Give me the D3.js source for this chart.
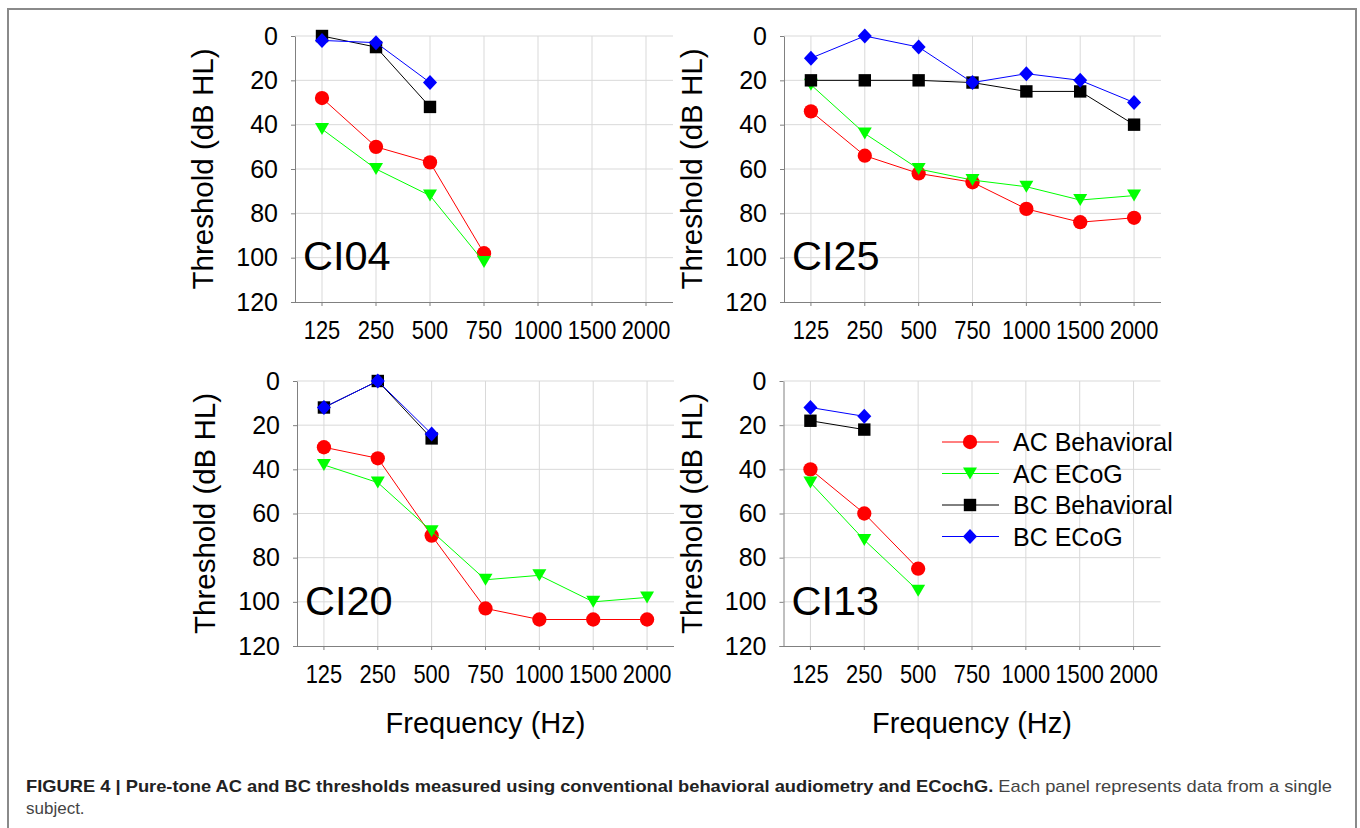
<!DOCTYPE html>
<html>
<head>
<meta charset="utf-8">
<script src="https://cdn.jsdelivr.net/npm/d3@7"></script>
<style>
  html, body { margin: 0; padding: 0; background: #fff; }
  svg { display: block; font-family: "Liberation Sans", Arial, sans-serif; }
</style>
</head>
<body>
<svg id="chart"></svg>
<script>
// categories and ticks
const freqLabels = ['125', '250', '500', '750', '1000', '1500', '2000'];
const yTicks = [0, 20, 40, 60, 80, 100, 120];
const seriesNames = ['AC Behavioral', 'AC ECoG', 'BC Behavioral', 'BC ECoG'];
const seriesColors = ['#ff0000', '#00ff00', '#000000', '#0000ff'];
const seriesShapes = ['circle', 'triangle', 'square', 'diamond'];
const panelNames = ['CI04', 'CI25', 'CI20', 'CI13'];

// thresholds (dB HL), one value per frequency, null = not measured
const ci04AcBeh = [28, 50, 57, 98, null, null, null];
const ci04AcEcog = [42, 60, 72, 102, null, null, null];
const ci04BcBeh = [0, 5, 32, null, null, null, null];
const ci04BcEcog = [2, 3, 21, null, null, null, null];

const ci25AcBeh = [34, 54, 62, 66, 78, 84, 82];
const ci25AcEcog = [22, 44, 60, 65, 68, 74, 72];
const ci25BcBeh = [20, 20, 20, 21, 25, 25, 40];
const ci25BcEcog = [10, 0, 5, 21, 17, 20, 30];

const ci20AcBeh = [30, 35, 70, 103, 108, 108, 108];
const ci20AcEcog = [38, 46, 68, 90, 88, 100, 98];
const ci20BcBeh = [12, 0, 26, null, null, null, null];
const ci20BcEcog = [12, 0, 24, null, null, null, null];

const ci13AcBeh = [40, 60, 85, null, null, null, null];
const ci13AcEcog = [46, 72, 95, null, null, null, null];
const ci13BcBeh = [18, 22, null, null, null, null, null];
const ci13BcEcog = [12, 16, null, null, null, null, null];

const panelData = [
    [ci04AcBeh, ci04AcEcog, ci04BcBeh, ci04BcEcog],
    [ci25AcBeh, ci25AcEcog, ci25BcBeh, ci25BcEcog],
    [ci20AcBeh, ci20AcEcog, ci20BcBeh, ci20BcEcog],
    [ci13AcBeh, ci13AcEcog, ci13BcBeh, ci13BcEcog]
];

const width = 1360, height = 828;
const font = '"Liberation Sans", Arial, sans-serif';

// plot boxes
const boxes = [
    {left: 295, top: 36, right: 673, bottom: 302},
    {left: 784, top: 36, right: 1161, bottom: 302},
    {left: 297, top: 381, right: 674, bottom: 646},
    {left: 783.5, top: 381, right: 1160.5, bottom: 646}
];

const svg = d3.select('#chart').attr('width', width).attr('height', height);

// outer frame
svg.append('rect')
    .attr('x', 8).attr('y', 9)
    .attr('width', 1348).attr('height', 840)
    .attr('fill', 'none')
    .attr('stroke', '#8a8a8a')
    .attr('stroke-width', 2);

function markerPath(shape) {
    if (shape === 'circle') return d3.symbol(d3.symbolCircle, 160)();
    if (shape === 'square') return 'M-6.2,-6.2H6.2V6.2H-6.2Z';
    if (shape === 'triangle') return 'M-7,-6H7L0,6Z';
    return 'M0,-7.5L7,0L0,7.5L-7,0Z';
}

boxes.forEach((b, pi) => {
    const g = svg.append('g');
    const x = d3.scaleBand().domain(freqLabels).range([b.left, b.right]).padding(0);
    const y = d3.scaleLinear().domain([0, 120]).range([b.top, b.bottom]);
    const cx = d => x(d) + x.bandwidth() / 2;

    // gridlines
    g.selectAll('.hgrid').data(yTicks.slice(0, -1)).join('line')
        .attr('x1', b.left).attr('x2', b.right)
        .attr('y1', d => y(d)).attr('y2', d => y(d))
        .attr('stroke', '#d9d9d9').attr('stroke-width', 1);
    g.selectAll('.vgrid').data(freqLabels).join('line')
        .attr('x1', cx).attr('x2', cx)
        .attr('y1', b.top).attr('y2', b.bottom)
        .attr('stroke', '#d9d9d9').attr('stroke-width', 1);

    // axes
    const yAxis = g.append('g')
        .attr('transform', `translate(${b.left},0)`)
        .call(d3.axisLeft(y).tickValues(yTicks).tickSize(4).tickPadding(13).tickSizeOuter(0));
    yAxis.select('.domain').attr('stroke', '#808080');
    yAxis.selectAll('.tick line').attr('stroke', '#808080');
    yAxis.selectAll('.tick text')
        .attr('font-family', font).attr('font-size', 25).attr('fill', '#000');

    const xAxis = g.append('g')
        .attr('transform', `translate(0,${b.bottom})`)
        .call(d3.axisBottom(x).tickSize(4).tickSizeOuter(0));
    xAxis.select('.domain').attr('d', `M${b.left - 4},0.5H${b.right}`).attr('stroke', '#808080');
    xAxis.selectAll('.tick line').attr('stroke', '#808080');
    xAxis.selectAll('.tick text')
        .attr('font-family', font).attr('font-size', 26).attr('fill', '#000')
        .attr('y', 37).attr('dy', 0)
        .attr('transform', 'scale(0.84,1)');

    // y title
    g.append('text')
        .attr('transform', `translate(${b.left - 82},${(b.top + b.bottom) / 2}) rotate(-90)`)
        .attr('text-anchor', 'middle')
        .attr('font-family', font).attr('font-size', 29.5)
        .text('Threshold (dB HL)');

    // x title on bottom row
    if (pi >= 2) {
        g.append('text')
            .attr('x', (b.left + b.right) / 2).attr('y', b.bottom + 87)
            .attr('text-anchor', 'middle')
            .attr('font-family', font).attr('font-size', 29)
            .text('Frequency (Hz)');
    }

    // panel label
    g.append('text')
        .attr('x', b.left + 8).attr('y', b.top + 234)
        .attr('font-family', font).attr('font-size', 41.5)
        .text(panelNames[pi]);

    // series
    panelData[pi].forEach((vals, si) => {
        const pts = freqLabels.map((f, i) => ({f, v: vals[i]})).filter(p => p.v !== null);
        const line = d3.line().x(p => cx(p.f)).y(p => y(p.v));
        g.append('path')
            .attr('d', line(pts))
            .attr('fill', 'none')
            .attr('stroke', seriesColors[si])
            .attr('stroke-width', 1);
        g.selectAll(null).data(pts).join('path')
            .attr('transform', p => `translate(${cx(p.f)},${y(p.v)})`)
            .attr('d', markerPath(seriesShapes[si]))
            .attr('fill', seriesColors[si]);
    });
});

// legend
const legend = svg.append('g').attr('transform', 'translate(942,442)');
seriesNames.forEach((name, i) => {
    const row = legend.append('g').attr('transform', `translate(0,${i * 31.5})`);
    row.append('line').attr('x1', 0).attr('x2', 57).attr('y1', 0).attr('y2', 0)
        .attr('stroke', seriesColors[i]).attr('stroke-width', 1);
    row.append('path').attr('transform', 'translate(28,0)')
        .attr('d', markerPath(seriesShapes[i])).attr('fill', seriesColors[i]);
    row.append('text').attr('x', 71).attr('y', 0).attr('dy', '0.36em')
        .attr('font-family', font).attr('font-size', 25)
        .text(name);
});

// caption
const cap = svg.append('text')
    .attr('x', 26).attr('y', 792)
    .attr('font-family', font).attr('font-size', 17)
    .attr('textLength', 1306).attr('lengthAdjust', 'spacingAndGlyphs');
cap.append('tspan').attr('font-weight', 'bold').attr('fill', '#222')
    .text('FIGURE 4 | Pure-tone AC and BC thresholds measured using conventional behavioral audiometry and ECochG.');
cap.append('tspan').attr('fill', '#444')
    .text(' Each panel represents data from a single');
svg.append('text')
    .attr('x', 26).attr('y', 814)
    .attr('font-family', font).attr('font-size', 17).attr('fill', '#444')
    .text('subject.');
</script>
</body>
</html>
